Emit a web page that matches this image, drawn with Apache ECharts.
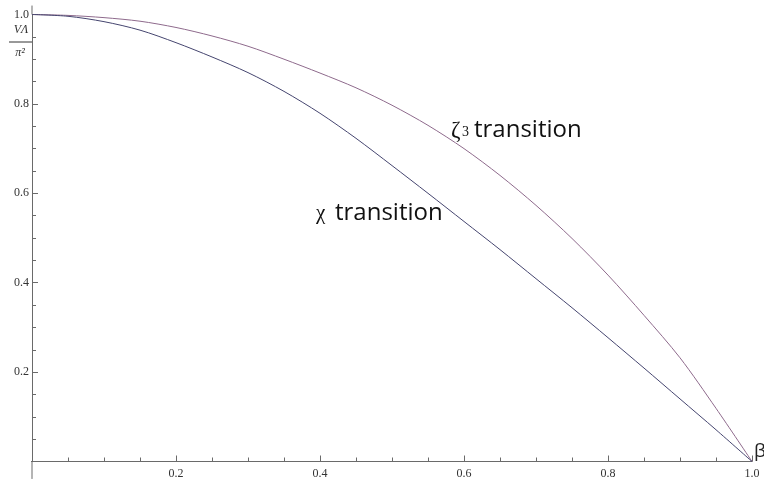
<!DOCTYPE html>
<html>
<head>
<meta charset="utf-8">
<script src="https://cdn.jsdelivr.net/npm/echarts@6/dist/echarts.min.js"></script>
<style>html,body{margin:0;padding:0;background:#fff;}#c{width:764px;height:483px;}</style>
</head>
<body>
<div id="c"></div>
<script>
// β sample positions
var beta = [0, 0.05, 0.10, 0.15, 0.20, 0.25, 0.30, 0.35, 0.40, 0.45, 0.50, 0.55, 0.60, 0.65, 0.70, 0.75, 0.80, 0.85, 0.90, 0.95, 1.00];
// ζ3 transition (upper curve)
var zetaV = [1, 0.998, 0.993, 0.985, 0.971, 0.952, 0.929, 0.900, 0.869, 0.836, 0.797, 0.752, 0.700, 0.640, 0.573, 0.499, 0.417, 0.327, 0.232, 0.119, 0];
// χ transition (lower curve)
var chiV  = [1, 0.996, 0.984, 0.965, 0.937, 0.905, 0.870, 0.828, 0.779, 0.723, 0.662, 0.600, 0.537, 0.474, 0.409, 0.344, 0.277, 0.209, 0.140, 0.071, 0];
// axis extents beyond the data frame (Mathematica-style crossing axes)
var xAxisExt = [[-0.021, 0], [0, 0]];
var yAxisExtLow = [[0, -0.039], [0, 0]];
var yAxisExtHigh = [[0, 1], [0, 1.02]];
var xTickLabels = ['0.2', '0.4', '0.6', '0.8', '1.0'];
var yTickLabels = ['0.2', '0.4', '0.6', '0.8', '1.0'];

function pairs(xs, ys) { return xs.map(function (x, i) { return [x, ys[i]]; }); }
function labelFor(list) {
  return function (v) {
    var s = v.toFixed(1);
    return list.indexOf(s) >= 0 ? s : '';
  };
}

var axisColor = '#6a6a6a';
var chart = echarts.init(document.getElementById('c'), null, {renderer: 'canvas'});
function extSeries(d) {
  return {type: 'line', data: d, clip: false, silent: true, symbol: 'none',
    lineStyle: {color: axisColor, width: 1}, z: 1, animation: false};
}
var opt = {
  animation: false,
  grid: {left: 32, right: 12, top: 14.5, bottom: 21.5, containLabel: false},
  xAxis: {
    type: 'value', min: 0, max: 1, interval: 0.2,
    axisLine: {show: true, onZero: false, lineStyle: {color: axisColor, width: 1}},
    axisTick: {show: true, inside: true, length: 6, lineStyle: {color: axisColor}},
    minorTick: {show: true, splitNumber: 4, length: 4, lineStyle: {color: axisColor}},
    splitLine: {show: false},
    axisLabel: {show: true, margin: 6, color: '#333', fontFamily: 'Liberation Serif', fontSize: 12,
      formatter: labelFor(xTickLabels), showMaxLabel: true, showMinLabel: false}
  },
  yAxis: {
    type: 'value', min: 0, max: 1, interval: 0.2,
    axisLine: {show: true, onZero: false, lineStyle: {color: axisColor, width: 1}},
    axisTick: {show: true, inside: true, length: 6, lineStyle: {color: axisColor}},
    minorTick: {show: true, splitNumber: 4, length: 4, lineStyle: {color: axisColor}},
    splitLine: {show: false},
    axisLabel: {show: true, margin: 3, color: '#333', fontFamily: 'Liberation Serif', fontSize: 12,
      formatter: labelFor(yTickLabels), showMaxLabel: true, showMinLabel: false}
  },
  series: [
    extSeries(xAxisExt), extSeries(yAxisExtLow), extSeries(yAxisExtHigh),
    {name: 'ζ3 transition', type: 'line', data: pairs(beta, zetaV), symbol: 'none',
      smooth: 0.3, lineStyle: {color: '#8e6a8c', width: 1}, z: 3},
    {name: 'χ transition', type: 'line', data: pairs(beta, chiV), symbol: 'none',
      smooth: 0.3, lineStyle: {color: '#45456f', width: 1}, z: 3}
  ],
  graphic: [
    {type: 'text', x: 21, y: 30, style: {text: 'VΛ', fill: '#333', font: 'italic 12px "Liberation Serif"', align: 'center', verticalAlign: 'middle'}},
    {type: 'line', shape: {x1: 9, y1: 42, x2: 32, y2: 42}, style: {stroke: '#333', lineWidth: 1}},
    {type: 'text', x: 20, y: 53, style: {text: 'π²', fill: '#333', font: 'italic 12px "Liberation Serif"', align: 'center', verticalAlign: 'middle'}},
    {type: 'text', x: 754, y: 452, style: {text: 'β', fill: '#222', font: '19px "Open Sans"', align: 'left', verticalAlign: 'middle'}},
    {type: 'text', x: 451, y: 119, style: {text: 'ζ', fill: '#111', font: '23px "Liberation Serif"', align: 'left', verticalAlign: 'top'}},
    {type: 'text', x: 462, y: 125, style: {text: '3', fill: '#111', font: '14px "Liberation Serif"', align: 'left', verticalAlign: 'top'}},
    {type: 'text', x: 474, y: 118, style: {text: 'transition', fill: '#111', font: '24px "Open Sans"', align: 'left', verticalAlign: 'top'}},
    {type: 'text', x: 316, y: 203, style: {text: 'χ', fill: '#111', font: '21px "Liberation Serif"', align: 'left', verticalAlign: 'top'}},
    {type: 'text', x: 335, y: 201, style: {text: 'transition', fill: '#111', font: '24px "Open Sans"', align: 'left', verticalAlign: 'top'}}
  ]
};
chart.setOption(opt);
</script>
</body>
</html>
